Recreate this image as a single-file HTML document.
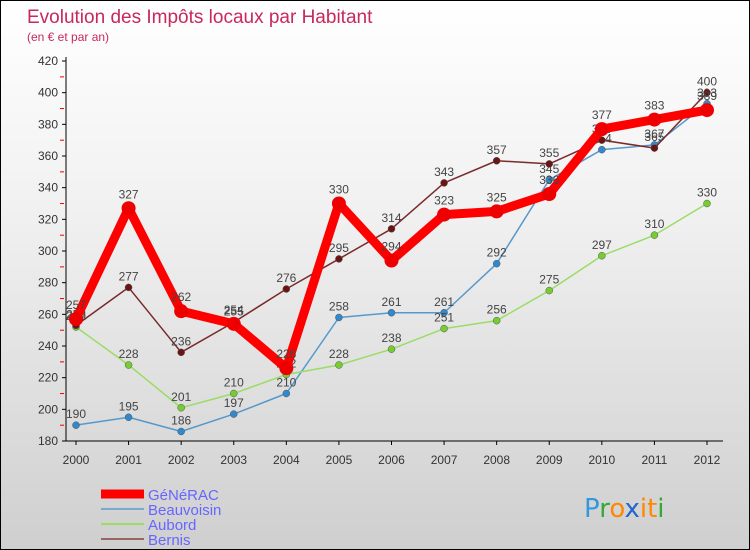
<!DOCTYPE html>
<html><head><meta charset="utf-8"><style>
body{margin:0}
#c{width:748px;height:548px;border:1px solid #000;background:linear-gradient(#fff,#f0f0f0 40%,#cfcfcf);position:relative;font-family:"Liberation Sans",sans-serif;overflow:hidden}
</style></head><body>
<div id="c">
<svg id="s" width="748" height="548"></svg>
</div>
<script>
const years=["2000","2001","2002","2003","2004","2005","2006","2007","2008","2009","2010","2011","2012"];
const yTicks=[180,200,220,240,260,280,300,320,340,360,380,400,420];
const generac=[257,327,262,254,226,330,294,323,325,336,377,383,389];
const beauvoisin=[190,195,186,197,210,258,261,261,292,345,364,367,393];
const aubord=[252,228,201,210,222,228,238,251,256,275,297,310,330];
const bernis=[253,277,236,255,276,295,314,343,357,355,370,365,400];
const seriesNames=["GéNéRAC","Beauvoisin","Aubord","Bernis"];
const NS="http://www.w3.org/2000/svg";
const s=document.getElementById('s');
function X(i){return 75+i*(706-75)/12;}
function Y(v){return 440-(v-180)*380/240;}
function el(t,a,p){const e=document.createElementNS(NS,t);for(const k in a)e.setAttribute(k,a[k]);(p||s).appendChild(e);return e;}
function tx(x,y,str,a){const e=el('text',Object.assign({x:x,y:y},a));e.textContent=str;return e;}
let t=tx(26,22,"Evolution des Impôts locaux par Habitant",{fill:"#c8285a","font-size":19});

t=tx(26,40,"(en € et par an)",{fill:"#c8285a","font-size":12});

// axes
let a=el('line',{x1:65,y1:56,x2:65,y2:440,stroke:"#000"});
a=el('line',{x1:65,y1:440,x2:722,y2:440,stroke:"#000"});
yTicks.forEach(v=>{const y=Y(v);
 el('line',{x1:61,y1:y,x2:65,y2:y,stroke:"#000"});
 if(v<420)el('line',{x1:59,y1:y-15.8,x2:63,y2:y-15.8,stroke:"#e00"});
 const e=tx(57,y+4,String(v),{"text-anchor":"end","font-size":12,fill:"#333"});
 });
years.forEach((yr,i)=>{el('line',{x1:X(i),y1:440,x2:X(i),y2:444,stroke:"#000"});
 const e=tx(X(i),463,yr,{"text-anchor":"middle","font-size":12,fill:"#333"});
 });
const ser=[[generac,"#f00",9,7,"#e00"],[beauvoisin,"#5599cc",1.5,3.5,"#3388cc"],[aubord,"#99dd66",1.5,3.5,"#77cc33"],[bernis,"#7a2a2a",1.5,3.5,"#6a1515"]];
const order=[1,2,3,0];
order.forEach(k=>{const [d,c,w,r,f]=ser[k];
 const g=el('g',{});
 el('polyline',{points:d.map((v,i)=>X(i)+","+Y(v)).join(" "),fill:"none",stroke:c,"stroke-width":w,"stroke-linejoin":"round"},g);
 d.forEach((v,i)=>{const p=el('circle',{cx:X(i),cy:Y(v),r:r,fill:f,stroke:k==0?"#e00":"#555","stroke-width":k==0?0:0.5},g);
  
  const l=tx(X(i),Y(v)-(k==0?10:7),String(v),{"text-anchor":"middle","font-size":12,fill:"#444"},g);
  });
});
// legend
const lc=["#f00","#77aacc","#99dd66","#996666"],lw=[9,2,2,2];
seriesNames.forEach((n,k)=>{const y=493+k*15;
 const g=el('g',{});
 el('line',{x1:100,y1:y,x2:143,y2:y,stroke:lc[k],"stroke-width":lw[k]},g);
 tx(147,y+6,n,{"font-size":15,fill:"#6666ff"},g);});
const lg=el('text',{x:583,y:516,"font-size":26,"font-family":"DejaVu Sans, sans-serif"});

[["P","#3399dd"],["r","#33aa33"],["o","#ff8800"],["x","#2266cc"],["i","#ff8800"],["t","#ff8800"],["i","#33aa33"]].forEach(([ch,c])=>{const ts=el('tspan',{fill:c},lg);ts.textContent=ch;});
</script>
</body></html>
